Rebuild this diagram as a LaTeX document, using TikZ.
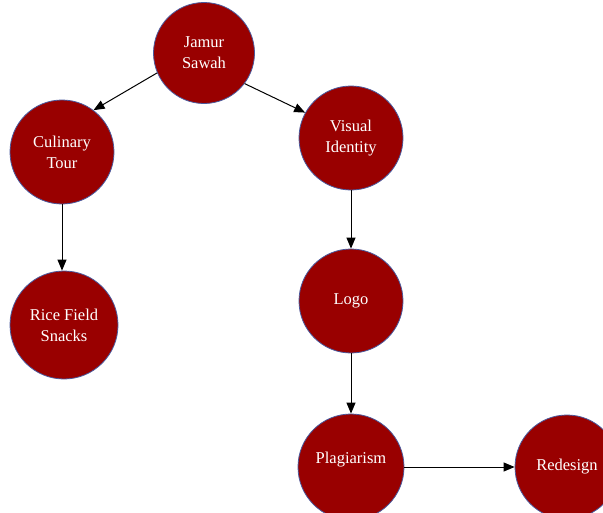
\documentclass[tikz,border=0pt]{standalone}
\usepackage{fontspec}
\setmainfont{Liberation Serif}
\usepackage{xcolor}
\usepackage{tikz}
\usetikzlibrary{arrows.meta}
\definecolor{nodec}{HTML}{990000}
\definecolor{rimc}{HTML}{4A5A9E}
\tikzset{
  ar/.style={-{Triangle[length=11pt,width=9pt]},line width=1pt,black},
  nd/.style={circle,draw=rimc,line width=0.8pt,fill=nodec,text=white,minimum size=104pt,inner sep=0pt,align=center,font=\fontsize{16.5}{21}\selectfont}
}
\begin{document}
\begin{tikzpicture}[x=1pt,y=-1pt]
\useasboundingbox (0,0) rectangle (603,512);
\node[nd,minimum size=101pt] (jamur) at (204,53) {Jamur\\Sawah};
\node[nd] (culinary) at (62,152) {Culinary\\Tour};
\node[nd] (visual) at (351,138) {Visual\\Identity};
\node[nd,minimum size=108pt] (rice) at (64,325) {Rice Field\\Snacks};
\node[nd] (logo) at (351,301) {Logo};
\node[nd,minimum size=106pt] (plag) at (351,467) {Plagiarism\\[-2pt]\mbox{}};
\node[nd] (redesign) at (567,467) {Redesign};
\draw[ar] (jamur.203) -- (culinary.53);
\draw[ar] (jamur.323) -- (visual.151);
\draw[ar] (culinary.south) -- (culinary.south |- rice.north);
\draw[ar] (visual.south) -- (logo.north);
\draw[ar] (logo.south) -- (plag.north);
\draw[ar] (plag.east) -- (redesign.west);
\end{tikzpicture}
\end{document}
